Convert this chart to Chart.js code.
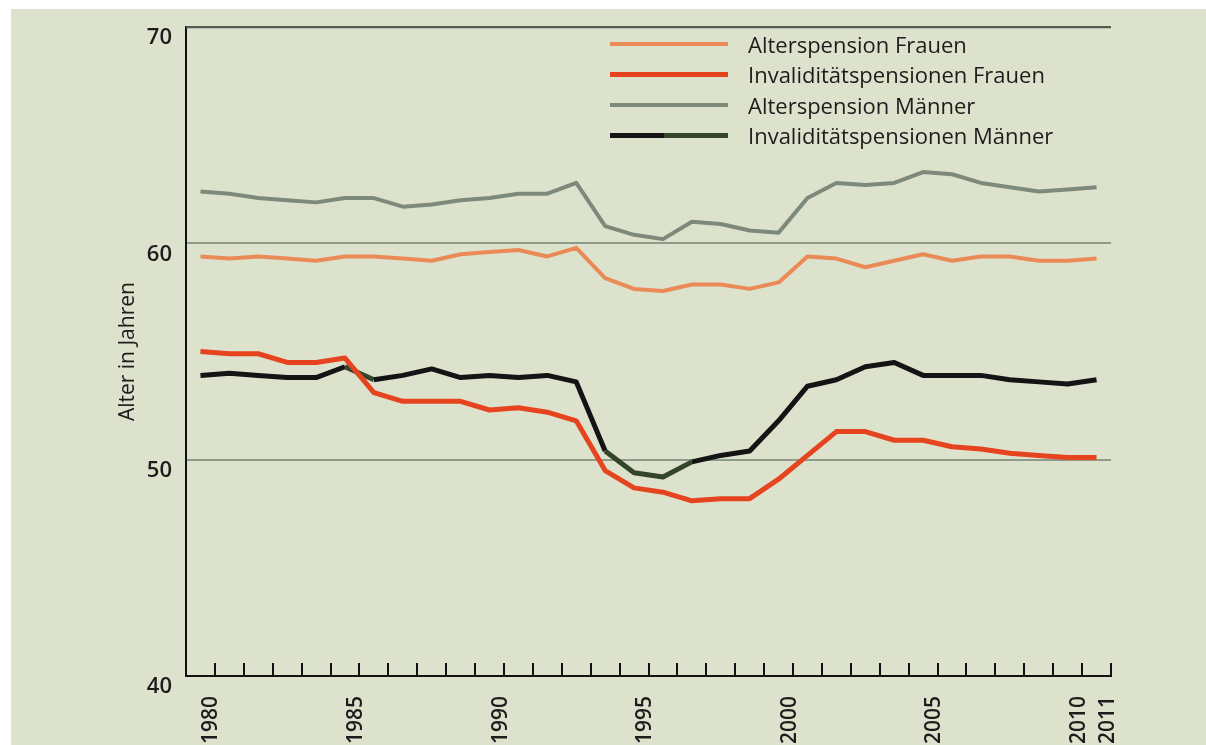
<!DOCTYPE html>
<html lang="de">
<head>
<meta charset="utf-8">
<title>Pensionsantrittsalter</title>
<script src="https://cdn.jsdelivr.net/npm/chart.js@4.4.1/dist/chart.umd.min.js"></script>
<style>
    html, body { margin: 0; padding: 0; background: #fff; overflow: hidden; }
    #wrap { position: relative; width: 1206px; height: 745px; }
    #chartCanvas { display: block; }
    #legend {
        position: absolute;
        left: 610px;
        top: 29px;
        font-family: "Open Sans", sans-serif;
        font-size: 22px;
        color: #1c1c1c;
    }
    .item { display: flex; align-items: center; height: 30.3px; }
    .swatch { width: 118px; margin-right: 20px; }
</style>
</head>
<body>
<div id="wrap">
    <canvas id="chartCanvas" width="1206" height="745"></canvas>
    <div id="legend"></div>
</div>
<script>
const years = [1980, 1981, 1982, 1983, 1984, 1985, 1986, 1987, 1988, 1989,
    1990, 1991, 1992, 1993, 1994, 1995, 1996, 1997, 1998, 1999,
    2000, 2001, 2002, 2003, 2004, 2005, 2006, 2007, 2008, 2009,
    2010, 2011];

const alterFrauen = [59.4, 59.3, 59.4, 59.3, 59.2, 59.4, 59.4, 59.3, 59.2, 59.5,
    59.6, 59.7, 59.4, 59.8, 58.4, 57.9, 57.8, 58.1, 58.1, 57.9,
    58.2, 59.4, 59.3, 58.9, 59.2, 59.5, 59.2, 59.4, 59.4, 59.2,
    59.2, 59.3];

const invFrauen = [55.0, 54.9, 54.9, 54.5, 54.5, 54.7, 53.1, 52.7, 52.7, 52.7,
    52.3, 52.4, 52.2, 51.8, 49.5, 48.7, 48.5, 48.1, 48.2, 48.2,
    49.1, 50.2, 51.3, 51.3, 50.9, 50.9, 50.6, 50.5, 50.3, 50.2,
    50.1, 50.1];

const alterMaenner = [62.4, 62.3, 62.1, 62.0, 61.9, 62.1, 62.1, 61.7, 61.8, 62.0,
    62.1, 62.3, 62.3, 62.8, 60.8, 60.4, 60.2, 61.0, 60.9, 60.6,
    60.5, 62.1, 62.8, 62.7, 62.8, 63.3, 63.2, 62.8, 62.6, 62.4,
    62.5, 62.6];

const invMaenner = [53.9, 54.0, 53.9, 53.8, 53.8, 54.3, 53.7, 53.9, 54.2, 53.8,
    53.9, 53.8, 53.9, 53.6, 50.4, 49.4, 49.2, 49.9, 50.2, 50.4,
    51.8, 53.4, 53.7, 54.3, 54.5, 53.9, 53.9, 53.9, 53.7, 53.6,
    53.5, 53.7];

const labeledYears = [1980, 1985, 1990, 1995, 2000, 2005, 2010, 2011];
const yTicks = [40, 50, 60, 70];

const seriesNames = ['Alterspension Frauen', 'Invaliditätspensionen Frauen',
    'Alterspension Männer', 'Invaliditätspensionen Männer'];
const seriesColors = ['#ea8a56', '#e5441f', '#7d897a', '#141414'];
const seriesWidths = [4, 5, 4, 5];

// the scan tints some stretches of the black line dark green
const greenishSegments = [5, 14, 15, 16];
const SCAN_GREEN = '#34452d';

const BG = '#dde2cd';
const TOP_LINE = '#545c52';
const FONT = '"Open Sans", sans-serif';

const backgroundPlugin = {
    id: 'scanBackground',
    beforeDraw(chart) {
        const ctx = chart.ctx;
        ctx.save();
        ctx.fillStyle = '#ffffff';
        ctx.fillRect(0, 0, chart.width, chart.height);
        ctx.fillStyle = BG;
        ctx.fillRect(11, 9, chart.width - 11, chart.height - 9);
        ctx.restore();
    }
};

// top frame line at the highest y tick
const topLinePlugin = {
    id: 'topLine',
    afterDraw(chart) {
        const { ctx, chartArea, scales } = chart;
        const y = scales.y.getPixelForValue(yTicks[yTicks.length - 1]);
        ctx.save();
        ctx.strokeStyle = TOP_LINE;
        ctx.lineWidth = 2;
        ctx.beginPath();
        ctx.moveTo(chartArea.left, y);
        ctx.lineTo(chartArea.right, y);
        ctx.stroke();
        ctx.restore();
    }
};

const seriesData = [alterFrauen, invFrauen, alterMaenner, invMaenner];

const ctx = document.getElementById('chartCanvas').getContext('2d');
const chart = new Chart(ctx, {
    type: 'line',
    data: {
        labels: years,
        datasets: seriesNames.map((name, i) => ({
            label: name,
            data: seriesData[i],
            borderColor: seriesColors[i],
            borderWidth: seriesWidths[i],
            pointRadius: 0,
            tension: 0,
            fill: false,
            borderJoinStyle: 'round',
            borderCapStyle: 'butt',
            segment: i === 3 ? {
                borderColor: s => greenishSegments.includes(s.p0DataIndex) ? SCAN_GREEN : undefined
            } : undefined
        }))
    },
    options: {
        responsive: false,
        animation: false,
        layout: {
            padding: { left: 0, top: 27, right: 95, bottom: 0 }
        },
        plugins: {
            legend: { display: false },
            tooltip: { enabled: false }
        },
        scales: {
            x: {
                type: 'category',
                offset: true,
                afterFit: scale => { scale.height = 69; },
                grid: {
                    offset: true,
                    drawOnChartArea: false,
                    drawTicks: true,
                    tickLength: -13,
                    color: '#111',
                    lineWidth: 2
                },
                border: { display: true, color: '#111', width: 2 },
                ticks: {
                    autoSkip: false,
                    minRotation: 90,
                    maxRotation: 90,
                    padding: 33,
                    labelOffset: 11,
                    color: '#1c1c1c',
                    font: { family: FONT, size: 21, weight: '600' },
                    callback: function (value) {
                        const year = years[value];
                        return labeledYears.includes(year) ? String(year) : '';
                    }
                }
            },
            y: {
                min: 40,
                max: 70,
                afterFit: scale => { scale.width = 186; },
                afterBuildTicks: scale => {
                    scale.ticks = yTicks.map(v => ({ value: v }));
                },
                grid: {
                    drawTicks: false,
                    lineWidth: 2,
                    color: c => {
                        if (c.tick && c.tick.value === 70) return TOP_LINE;
                        if (c.tick && c.tick.value === 40) return 'rgba(0,0,0,0)';
                        return '#8e9a8a';
                    }
                },
                border: { display: true, color: '#111', width: 2 },
                ticks: {
                    padding: 14,
                    labelOffset: 11,
                    color: '#1c1c1c',
                    font: { family: FONT, size: 22, weight: '600' }
                },
                title: {
                    display: true,
                    text: 'Alter in Jahren',
                    color: '#1c1c1c',
                    font: { family: FONT, size: 21 },
                    padding: { top: 115, bottom: 0 }
                }
            }
        }
    },
    plugins: [backgroundPlugin, topLinePlugin]
});

// legend as html, built from the same series lists
const legend = document.getElementById('legend');
seriesNames.forEach((name, i) => {
    const item = document.createElement('div');
    item.className = 'item';
    const swatch = document.createElement('span');
    swatch.className = 'swatch';
    swatch.style.height = seriesWidths[i] + 'px';
    swatch.style.background = i === 3
        ? 'linear-gradient(to right, #141414 46%, ' + SCAN_GREEN + ' 46%)'
        : seriesColors[i];
    const text = document.createElement('span');
    text.textContent = name;
    item.appendChild(swatch);
    item.appendChild(text);
    legend.appendChild(item);
});
</script>
</body>
</html>
